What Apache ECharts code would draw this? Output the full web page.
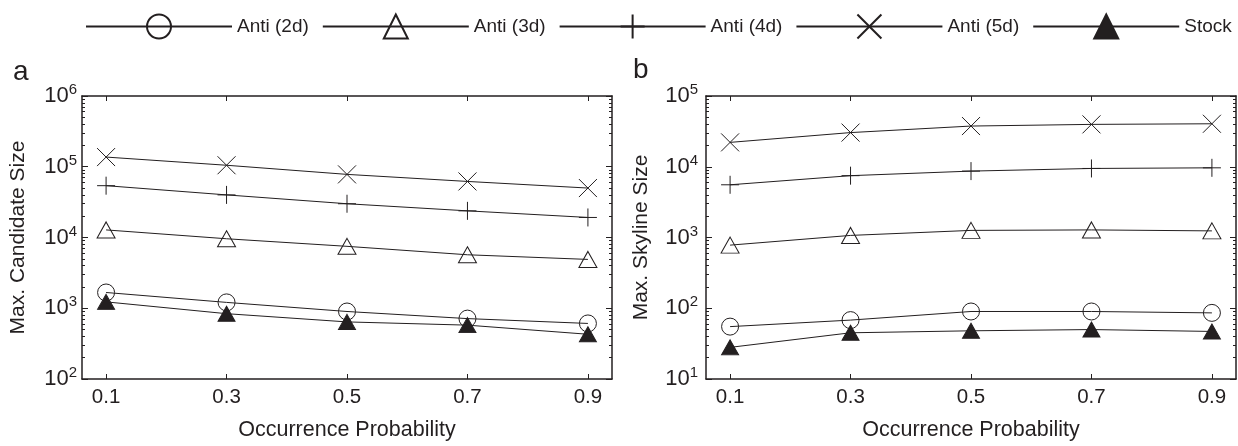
<!DOCTYPE html>
<html>
<head>
<meta charset="utf-8">
<script src="https://cdn.jsdelivr.net/npm/echarts@6/dist/echarts.min.js"></script>
<style>
  html, body { margin: 0; padding: 0; background: #fff; }
  #chart { width: 1238px; height: 446px; }
</style>
</head>
<body>
<div id="chart"></div>
<script>
// Occurrence probabilities on the x axis
const probabilities = [0.1, 0.3, 0.5, 0.7, 0.9];
const xTickLabels = [0.1, 0.3, 0.5, 0.7, 0.9];
const seriesNames = ['Anti (2d)', 'Anti (3d)', 'Anti (4d)', 'Anti (5d)', 'Stock'];

// Panel a: maximum candidate size
const candAnti2d = [1670, 1210, 900, 714, 610];
const candAnti3d = [12800, 9600, 7500, 5700, 4900];
const candAnti4d = [54000, 40000, 30000, 23800, 19200];
const candAnti5d = [137000, 105000, 78000, 62000, 50000];
const candStock  = [1230, 838, 641, 577, 429];

// Panel b: maximum skyline size
const skyAnti2d = [55, 68, 90, 90, 86];
const skyAnti3d = [780, 1070, 1260, 1280, 1240];
const skyAnti4d = [5560, 7480, 8680, 9460, 9660];
const skyAnti5d = [22100, 30400, 37600, 39700, 40500];
const skyStock  = [28, 45, 48, 50, 47];

// Decade ranges of the two log axes
const candDecades = [2, 6];
const skyDecades = [1, 5];

const INK = '#231f20';
const FONT = 'Liberation Sans, Arial, Helvetica, sans-serif';

// minor tick positions (2..9 x 10^k) expressed as exponents
function minorExponents(range) {
  const out = [];
  for (let k = range[0]; k < range[1]; k++) {
    for (let m = 2; m <= 9; m++) out.push(k + Math.log10(m));
  }
  return out;
}

const markerStyles = {
  'Anti (2d)': { symbol: 'circle', symbolSize: 17, fill: 'none' },
  'Anti (3d)': { symbol: 'triangle', symbolSize: [18, 16], fill: 'none' },
  'Anti (4d)': { symbol: 'path://M5,0L5,10M0,5L10,5', symbolSize: 18, fill: 'none' },
  'Anti (5d)': { symbol: 'path://M0,0L10,10M10,0L0,10', symbolSize: 18, fill: 'none' },
  'Stock':     { symbol: 'triangle', symbolSize: [17, 15], fill: INK }
};

function makeSeries(name, values, gridIdx) {
  const m = markerStyles[name];
  return {
    name: name,
    type: 'line',
    xAxisIndex: gridIdx * 2,
    yAxisIndex: gridIdx * 4,
    data: probabilities.map((p, i) => [p, values[i]]),
    symbol: m.symbol,
    symbolSize: m.symbolSize,
    showAllSymbol: true,
    lineStyle: { color: INK, width: 1 },
    itemStyle: { color: m.fill, borderColor: INK, borderWidth: 1 },
    emphasis: { disabled: true },
    animation: false,
    z: 3
  };
}

const grids = [
  { left: 82, top: 96, width: 530, height: 289 },
  { left: 706, top: 96, width: 530, height: 289 }
];

const axisLine = { show: true, lineStyle: { color: INK, width: 1.5 } };

function xAxes(gridIdx) {
  const base = {
    type: 'value', gridIndex: gridIdx, min: 0.06, max: 0.94,
    splitLine: { show: false },
    axisLine: axisLine
  };
  return [
    Object.assign({}, base, {
      position: 'bottom',
      axisTick: { show: true, inside: true, length: 5, customValues: xTickLabels, lineStyle: { color: INK, width: 1 } },
      axisLabel: { show: true, customValues: xTickLabels, margin: 8, color: INK, fontFamily: FONT, fontSize: 20.5,
                   formatter: v => v.toFixed(1) },
      name: 'Occurrence Probability', nameLocation: 'middle', nameGap: 40,
      nameTextStyle: { color: INK, fontFamily: FONT, fontSize: 21.5 }
    }),
    Object.assign({}, base, {
      position: 'top',
      axisTick: { show: true, inside: true, length: 5, customValues: xTickLabels, lineStyle: { color: INK, width: 1 } },
      axisLabel: { show: false }
    })
  ];
}

function yAxes(gridIdx, decades, title, labelMargin, nameGap) {
  const lo = Math.pow(10, decades[0]), hi = Math.pow(10, decades[1]);
  const majorTick = { show: true, inside: true, length: 6, lineStyle: { color: INK, width: 1 } };
  const minorTick = { show: true, inside: true, length: 3, customValues: minorExponents(decades),
                      lineStyle: { color: INK, width: 1 } };
  return [
    {
      type: 'log', logBase: 10, gridIndex: gridIdx, position: 'left', min: lo, max: hi,
      splitLine: { show: false }, axisLine: axisLine, axisTick: majorTick,
      axisLabel: {
        margin: labelMargin, color: INK, fontFamily: FONT,
        formatter: v => '{b|10}{s|' + Math.round(Math.log10(v)) + '}',
        rich: {
          b: { fontSize: 22, fontFamily: FONT, color: INK },
          s: { fontSize: 15, fontFamily: FONT, color: INK, padding: [0, 0, 12, 0] }
        }
      },
      name: title, nameLocation: 'middle', nameGap: nameGap, nameRotate: 90,
      nameTextStyle: { color: INK, fontFamily: FONT, fontSize: 21 }
    },
    {
      type: 'log', logBase: 10, gridIndex: gridIdx, position: 'right', min: lo, max: hi,
      splitLine: { show: false }, axisLine: axisLine, axisTick: majorTick, axisLabel: { show: false }
    },
    {
      type: 'value', gridIndex: gridIdx, position: 'left', min: decades[0], max: decades[1],
      splitLine: { show: false }, axisLine: { show: false }, axisTick: minorTick, axisLabel: { show: false }
    },
    {
      type: 'value', gridIndex: gridIdx, position: 'right', min: decades[0], max: decades[1],
      splitLine: { show: false }, axisLine: { show: false }, axisTick: minorTick, axisLabel: { show: false }
    }
  ];
}

const candSets = [candAnti2d, candAnti3d, candAnti4d, candAnti5d, candStock];
const skySets = [skyAnti2d, skyAnti3d, skyAnti4d, skyAnti5d, skyStock];

const series = [];
seriesNames.forEach((n, i) => series.push(makeSeries(n, candSets[i], 0)));
seriesNames.forEach((n, i) => series.push(makeSeries(n, skySets[i], 1)));

const chart = echarts.init(document.getElementById('chart'), null, { renderer: 'canvas' });
chart.setOption({
  animation: false,
  backgroundColor: '#fff',
  textStyle: { fontFamily: FONT },
  title: [
    { text: 'a', left: 13, top: 58, padding: 0, textStyle: { fontSize: 28, fontWeight: 'normal', color: INK, fontFamily: FONT } },
    { text: 'b', left: 633, top: 56, padding: 0, textStyle: { fontSize: 28, fontWeight: 'normal', color: INK, fontFamily: FONT } }
  ],
  legend: {
    data: seriesNames,
    left: 85, top: 12, width: 1400, padding: 0,
    itemWidth: 146, itemHeight: 30, itemGap: 13,
    textStyle: { color: INK, fontFamily: FONT, fontSize: 19 },
    selectedMode: false
  },
  grid: grids,
  xAxis: xAxes(0).concat(xAxes(1)),
  yAxis: yAxes(0, candDecades, 'Max. Candidate Size', 5, 53).concat(yAxes(1, skyDecades, 'Max. Skyline Size', 8, 54)),
  series: series
});
</script>
</body>
</html>
